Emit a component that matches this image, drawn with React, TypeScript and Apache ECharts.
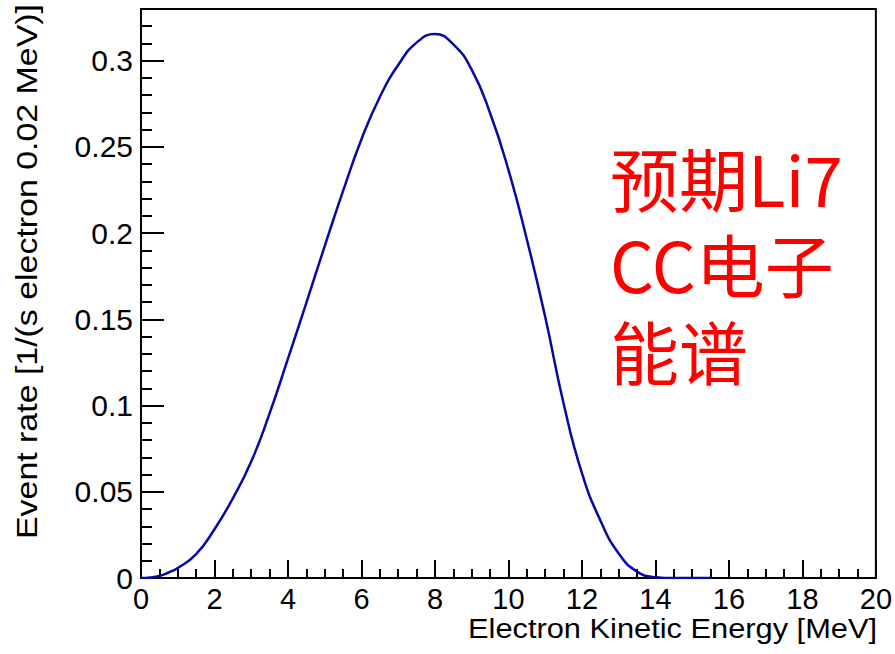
import React, { useEffect, useRef } from "react";
import * as echarts from "echarts";

const energy = [0, 0.25, 0.5, 0.75, 1, 1.5, 2, 2.5, 3, 3.5, 4, 4.5, 5, 5.5, 6, 6.5, 7, 7.5, 8, 8.5, 9, 9.5, 10, 10.5, 11, 11.5, 12, 12.5, 13, 13.5, 14, 14.5, 15, 15.5];
const rate = [0, 0.0003, 0.0012, 0.0032, 0.0058, 0.0138, 0.0283, 0.0462, 0.0675, 0.0955, 0.1272, 0.1596, 0.1925, 0.2245, 0.2545, 0.279, 0.2975, 0.3105, 0.3155, 0.3095, 0.2948, 0.2697, 0.2367, 0.1965, 0.1515, 0.1013, 0.0608, 0.0335, 0.0142, 0.0037, 0.0005, 0, 0, 0];

const yMajorTicks = [0, 0.05, 0.1, 0.15, 0.2, 0.25, 0.3];
const yMinorTicks = [
  0.01, 0.02, 0.03, 0.04, 0.06, 0.07, 0.08, 0.09, 0.11, 0.12, 0.13, 0.14,
  0.16, 0.17, 0.18, 0.19, 0.21, 0.22, 0.23, 0.24, 0.26, 0.27, 0.28, 0.29,
  0.31, 0.32,
];

const xTitle = "Electron Kinetic Energy [MeV]";
const yTitle = "Event rate [1/(s electron 0.02 MeV)]";
const noteLines = ["预期Li7", "CC电子", "能谱"];

export default function App() {
  const ref = useRef<HTMLDivElement>(null);
  useEffect(() => {
    if (!ref.current) return;
    const chart = echarts.init(ref.current, null, { renderer: "svg" });
    const black = "#000";
    const latin = "Liberation Sans";
    const noteY = [177, 263, 350];
    chart.setOption({
      animation: false,
      backgroundColor: "#fff",
      grid: {
        left: 141,
        right: 17,
        top: 9,
        bottom: 76,
        show: true,
        borderColor: black,
        borderWidth: 2,
        backgroundColor: "transparent",
      },
      xAxis: {
        type: "value",
        min: 0,
        max: 20,
        interval: 2,
        axisLine: { show: true, onZero: false, lineStyle: { color: black, width: 2 } },
        axisTick: { show: true, inside: true, length: 18, lineStyle: { color: black, width: 2 } },
        minorTick: { show: true, splitNumber: 4, length: 9, lineStyle: { color: black, width: 2 } },
        splitLine: { show: false },
        minorSplitLine: { show: false },
        axisLabel: { fontSize: 29, lineHeight: 22, color: black, fontFamily: latin, margin: 10 },
      },
      yAxis: [
        {
          type: "value",
          min: 0,
          max: 0.33,
          position: "left",
          axisLine: { show: true, onZero: false, lineStyle: { color: black, width: 2 } },
          axisTick: {
            show: true,
            inside: true,
            length: 23,
            customValues: yMajorTicks,
            lineStyle: { color: black, width: 2 },
          },
          axisLabel: {
            fontSize: 30,
            lineHeight: 24,
            color: black,
            fontFamily: latin,
            margin: 8,
            customValues: yMajorTicks,
          },
          splitLine: { show: false },
        },
        {
          type: "value",
          min: 0,
          max: 0.33,
          position: "left",
          axisLine: { show: false },
          axisTick: {
            show: true,
            inside: true,
            length: 11,
            customValues: yMinorTicks,
            lineStyle: { color: black, width: 2 },
          },
          axisLabel: { show: false },
          splitLine: { show: false },
        },
      ],
      series: [
        {
          type: "line",
          xAxisIndex: 0,
          yAxisIndex: 0,
          data: energy.map((e, i) => [e, rate[i]]),
          smooth: 0.5,
          showSymbol: false,
          lineStyle: { color: "#0808a4", width: 2.5 },
          z: 5,
        },
      ],
      graphic: [
        {
          type: "text",
          x: 27,
          y: 539,
          rotation: Math.PI / 2,
          scaleX: 1.13,
          style: {
            text: yTitle,
            fontSize: 30,
            fontFamily: latin,
            fill: black,
            align: "left",
            verticalAlign: "middle",
          },
        },
        {
          type: "text",
          x: 877,
          y: 628,
          scaleX: 1.1,
          style: {
            text: xTitle,
            fontSize: 28,
            lineHeight: 22,
            fontFamily: latin,
            fill: black,
            align: "right",
            verticalAlign: "middle",
          },
        },
        ...noteLines.map((t, i) => ({
          type: "text",
          x: 610,
          y: noteY[i],
          style: {
            text: t,
            fontSize: 69,
            lineHeight: 74,
            fontFamily: "Noto Sans CJK SC",
            fill: "#ff0000",
            align: "left",
            verticalAlign: "middle",
          },
        })),
      ],
    });
    return () => chart.dispose();
  }, []);
  return (
    <div
      ref={ref}
      style={{ position: "fixed", left: 0, top: 0, width: 895, height: 654, background: "#fff" }}
    />
  );
}
